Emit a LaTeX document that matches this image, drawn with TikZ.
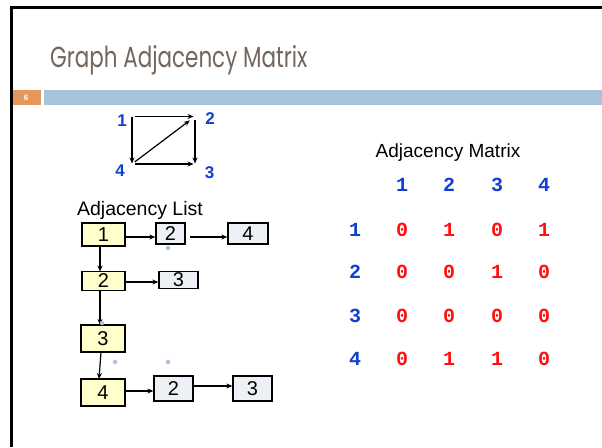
\documentclass[tikz,border=0pt]{standalone}
\usepackage{fontspec}
\setmainfont{Liberation Sans}
\newfontfamily\titlefont{Poppins}
\newfontfamily\mfont{Liberation Mono}
\usetikzlibrary{arrows.meta}
\definecolor{titlegray}{HTML}{75665C}
\definecolor{bandorange}{HTML}{E8975C}
\definecolor{bandblue}{HTML}{A6C3DA}
\definecolor{numblue}{HTML}{1040D0}
\definecolor{numred}{HTML}{FF1010}
\definecolor{boxyellow}{HTML}{FFFFCC}
\definecolor{boxgray}{HTML}{EDF1F6}
\definecolor{dotblue}{HTML}{A9C4E0}
\begin{document}
\begin{tikzpicture}[x=1pt,y=-1pt,
  ybox/.style={draw=black, line width=1.3pt, fill=boxyellow, inner sep=0pt, font=\fontsize{20}{20}\selectfont},
  gbox/.style={draw=black, line width=1.3pt, fill=boxgray, inner sep=0pt, font=\fontsize{20}{20}\selectfont},
  arr/.style={-{Stealth[length=6pt,width=5pt]}, line width=1.2pt},
  glab/.style={text=numblue, font=\fontsize{17}{17}\selectfont\bfseries, inner sep=0pt},
  mhead/.style={text=numblue, font=\fontsize{20}{20}\selectfont\mfont\bfseries, inner sep=0pt},
  mval/.style={text=numred, font=\fontsize{20}{20}\selectfont\mfont\bfseries, inner sep=0pt},
  dot/.style={fill=dotblue, draw=none, circle, inner sep=0pt, minimum size=4.5pt}
]
\useasboundingbox (0,0) rectangle (602,447);
\fill[white] (0,0) rectangle (602,447);
% frame
\draw[line width=2.2pt] (11.5,447) -- (11.5,7.5) -- (602,7.5);
% title
\node[anchor=base west, inner sep=0pt, text=titlegray] (title) at (50,67)
  {\scalebox{0.74}[1]{\titlefont\fontsize{29}{29}\selectfont Graph Adjacency Matrix}};
% bands
\fill[bandorange] (12.5,90) rectangle (40.5,105);
\fill[bandblue] (43.5,90) rectangle (602,105);
\node[text=white, font=\fontsize{8}{8}\selectfont\bfseries, inner sep=0pt] (pnum) at (26,97.5) {6};
% graph
\coordinate (c1) at (132,116.5);
\coordinate (c2) at (195,116.5);
\coordinate (c3) at (195,164);
\coordinate (c4) at (132,164);
\draw[arr, shorten <=3pt, shorten >=1.5pt] (c1) -- (c2);
\draw[arr, shorten <=0.5pt, shorten >=0.5pt] (c1) -- (c4);
\draw[arr, shorten <=3.5pt, shorten >=0.5pt] (c2) -- (c3);
\draw[arr, shorten <=3pt, shorten >=1.5pt] (c4) -- (c3);
\draw[arr, shorten <=3.5pt, shorten >=6.5pt] (c4) -- (c2);
\node[glab] (g1) at (122,120.5) {1};
\node[glab] (g2) at (210,119) {2};
\node[glab] (g4) at (120,171) {4};
\node[glab] (g3) at (209.5,172.5) {3};
% adjacency list
\node[anchor=center, inner sep=0pt, font=\fontsize{19.5}{19.5}\selectfont] (alist) at (140,210) {Adjacency List};
\node[ybox, minimum width=43pt, minimum height=23pt] (y1) at (103.5,234.5) {1};
\node[gbox, minimum width=29pt, minimum height=21pt] (a12) at (170.5,233.5) {2};
\node[gbox, minimum width=40pt, minimum height=21pt] (a14) at (248,233.5) {4};
\node[ybox, minimum width=43pt, minimum height=19pt] (y2) at (103.5,281) {2};
\node[gbox, minimum width=39pt, minimum height=17pt] (a23) at (178.5,280) {3};
\node[ybox, minimum width=44pt, minimum height=27pt] (y3) at (103,338.5) {3};
\node[ybox, minimum width=44pt, minimum height=27pt] (y4) at (103,392.5) {4};
\node[gbox, minimum width=39pt, minimum height=25pt] (a42) at (173.5,388.5) {2};
\node[gbox, minimum width=39pt, minimum height=25pt] (a43) at (252.5,388.5) {3};
\draw[arr] (y1.east |- 0,237) -- (a12.west |- 0,237);
\draw[arr] (190,237) -- (a14.west |- 0,237);
\draw[arr] (100,246) -- (100,271.5);
\draw[arr] (y2.east |- 0,282) -- (a23.west |- 0,282);
\draw[arr] (100,290.5) -- (100,325);
\draw[arr] (101,352) -- (99,379);
\draw[arr] (y4.east |- 0,391) -- (a42.west |- 0,391);
\draw[arr] (a42.east |- 0,386) -- (a43.west |- 0,386);
\node[dot] (d1) at (168,248) {};
\node[dot] (d2) at (102,323) {};
\node[dot] (d3) at (115,362) {};
\node[dot] (d4) at (168,362) {};
% matrix
\node[inner sep=0pt, font=\fontsize{19}{19}\selectfont] (amat) at (448,153) {Adjacency Matrix};
\foreach \c/\x in {1/402,2/449,3/497,4/544}
  \node[mhead] (h\c) at (\x,185) {\c};
\foreach \r/\y in {1/230,2/272,3/316,4/359}
  \node[mhead] (r\r) at (355,\y) {\r};
\foreach \r/\y/\a/\b/\cc/\d in {1/230/0/1/0/1, 2/272/0/0/1/0, 3/316/0/0/0/0, 4/359/0/1/1/0}{
  \node[mval] (m\r-1) at (402,\y) {\a};
  \node[mval] (m\r-2) at (449,\y) {\b};
  \node[mval] (m\r-3) at (497,\y) {\cc};
  \node[mval] (m\r-4) at (544,\y) {\d};
}
\end{tikzpicture}
\end{document}
